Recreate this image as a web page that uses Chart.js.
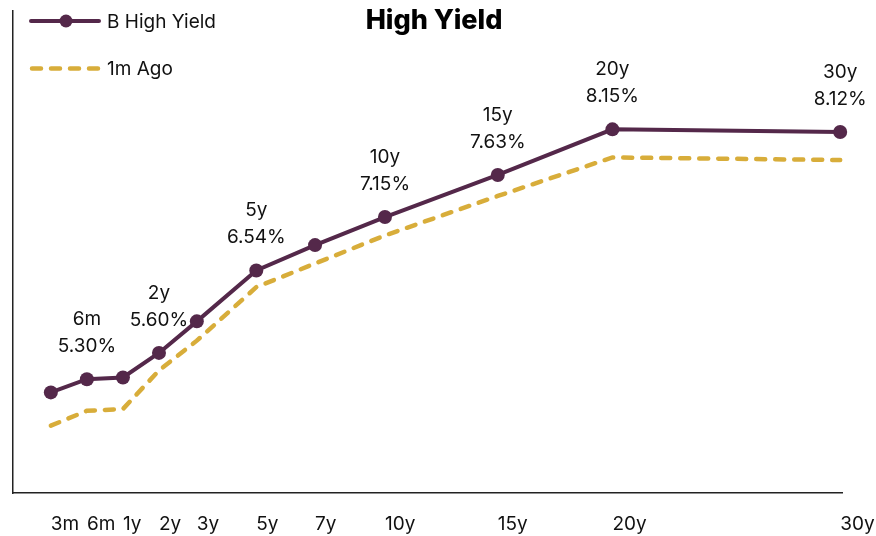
<!DOCTYPE html>
<html>
<head>
<meta charset="utf-8">
<script src="https://cdn.jsdelivr.net/npm/chart.js@4/dist/chart.umd.min.js"></script>
<style>
  body { margin: 0; background: #fff; }
  #wrap { width: 876px; height: 536px; position: relative; }
</style>
</head>
<body>
<div id="wrap"><canvas id="curve-chart"></canvas></div>
<script>
// tenors and where they sit along the x axis
const tenors = ['3m', '6m', '1y', '2y', '3y', '5y', '7y', '10y', '15y', '20y', '30y'];
const tenorPos = [0, 1, 2, 3, 4.05, 5.7, 7.33, 9.27, 12.4, 15.58, 21.9];
const highYield = [5.15, 5.30, 5.32, 5.60, 5.96, 6.54, 6.83, 7.15, 7.63, 8.15, 8.12];
const monthAgo = [4.77, 4.94, 4.96, 5.40, 5.74, 6.35, 6.62, 6.94, 7.39, 7.83, 7.80];
const labelledTenors = ['6m', '2y', '5y', '10y', '15y', '20y', '30y'];

const purple = '#54284a';
const gold = '#d8ad3a';
const font = 'Inter, "Noto Sans", sans-serif';

// title, legend and the point labels are painted on top of the chart
const overlay = {
  id: 'overlay',
  afterDraw(chart) {
    const ctx = chart.ctx;
    ctx.save();
    // title
    ctx.fillStyle = '#000';
    ctx.font = '800 27px ' + font;
    ctx.textAlign = 'center';
    ctx.textBaseline = 'middle';
    ctx.fillText('High Yield', 434, 21);

    // legend
    ctx.lineCap = 'round';
    ctx.strokeStyle = purple;
    ctx.lineWidth = 4;
    ctx.beginPath(); ctx.moveTo(31, 21); ctx.lineTo(99, 21); ctx.stroke();
    ctx.fillStyle = purple;
    ctx.beginPath(); ctx.arc(66, 21, 6.5, 0, Math.PI * 2); ctx.fill();
    ctx.strokeStyle = gold;
    ctx.lineWidth = 4.5;
    ctx.setLineDash([9, 10]);
    ctx.beginPath(); ctx.moveTo(32, 68.5); ctx.lineTo(99, 68.5); ctx.stroke();
    ctx.setLineDash([]);
    ctx.fillStyle = '#111';
    ctx.font = '19px ' + font;
    ctx.textAlign = 'left';
    ctx.fillText('B High Yield', 107, 22);
    ctx.fillText('1m Ago', 107, 69);

    // two-line labels above selected points
    const meta = chart.getDatasetMeta(1);
    ctx.textAlign = 'center';
    ctx.font = '19px ' + font;
    tenors.forEach((t, i) => {
      if (!labelledTenors.includes(t)) return;
      const pt = meta.data[i];
      ctx.fillText(t, pt.x, pt.y - 60);
      ctx.fillText(highYield[i].toFixed(2) + '%', pt.x, pt.y - 33);
    });
    ctx.restore();
  }
};

new Chart(document.getElementById('curve-chart').getContext('2d'), {
  type: 'line',
  data: {
    datasets: [
      {
        label: '1m Ago',
        data: tenorPos.map((x, i) => ({ x: x, y: monthAgo[i] })),
        borderColor: gold,
        borderWidth: 4.5,
        borderDash: [9, 10],
        borderCapStyle: 'round',
        pointRadius: 0,
        tension: 0,
        clip: false
      },
      {
        label: 'B High Yield',
        data: tenorPos.map((x, i) => ({ x: x, y: highYield[i] })),
        borderColor: purple,
        backgroundColor: purple,
        borderWidth: 4,
        pointRadius: 7,
        pointBackgroundColor: purple,
        pointBorderWidth: 0,
        tension: 0,
        clip: false
      }
    ]
  },
  options: {
    responsive: true,
    maintainAspectRatio: false,
    animation: false,
    layout: {
      padding: { top: 11, left: 13, right: 34, bottom: -20 }
    },
    scales: {
      x: {
        type: 'linear',
        min: -1.05,
        max: 21.95,
        grid: { display: false, drawTicks: false },
        border: { display: true, color: '#222', width: 1.5 },
        afterBuildTicks: axis => {
          axis.ticks = tenorPos.map(v => ({ value: v }));
        },
        // let the last tick label hang past the plot edge, as in the original
        afterFit: axis => {
          axis.paddingRight = 0;
        },
        ticks: {
          autoSkip: false,
          maxRotation: 0,
          align: 'start',
          padding: 20,
          color: '#111',
          font: { family: font, size: 19 },
          callback: (value, index) => tenors[index]
        }
      },
      y: {
        min: 4,
        max: 9.5,
        grid: { display: false, drawTicks: false },
        border: { display: true, color: '#222', width: 1.5 },
        ticks: { display: false }
      }
    },
    plugins: {
      legend: { display: false },
      tooltip: { enabled: false }
    }
  },
  plugins: [overlay]
});
</script>
</body>
</html>
